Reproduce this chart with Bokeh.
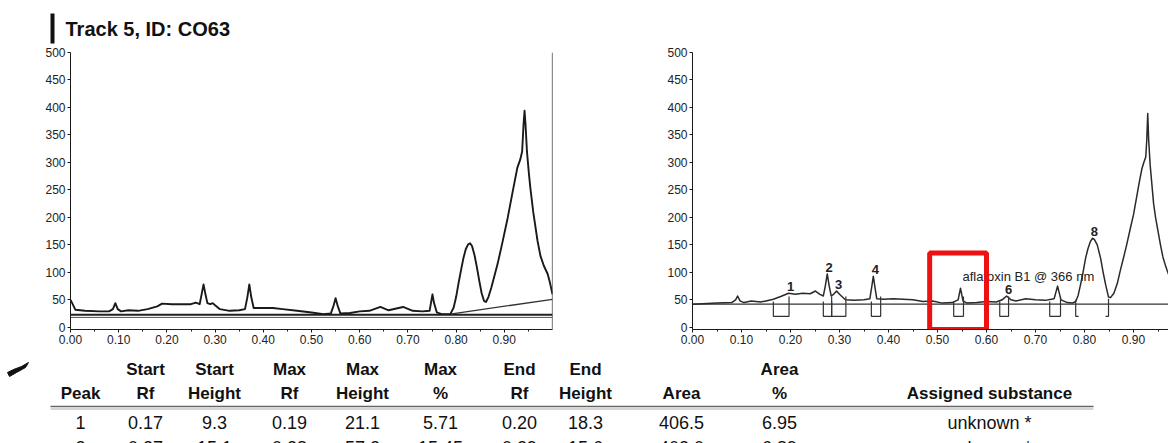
from bokeh.plotting import figure
from bokeh.layouts import column, row
from bokeh.models import Span, Range1d, FixedTicker, ColumnDataSource
from bokeh.embed import file_html
from bokeh.resources import INLINE
from bokeh.core.properties import value

# ---------------- data ----------------
title_text = "Track 5, ID: CO63"
x_ticks = [0.0, 0.1, 0.2, 0.3, 0.4, 0.5, 0.6, 0.7, 0.8, 0.9]
x_tick_labels = ["0.00", "0.10", "0.20", "0.30", "0.40", "0.50", "0.60", "0.70", "0.80", "0.90"]
y_ticks = [0, 50, 100, 150, 200, 250, 300, 350, 400, 450, 500]

# left chromatogram (all tracks)
left_rf = [0.000, 0.003, 0.010, 0.030, 0.060, 0.080, 0.088, 0.093, 0.098, 0.105, 0.120, 0.140,
           0.160, 0.180, 0.190, 0.210, 0.230, 0.250, 0.260, 0.268, 0.272, 0.276, 0.280, 0.284,
           0.290, 0.295, 0.300, 0.310, 0.330, 0.350, 0.362, 0.367, 0.371, 0.375, 0.380, 0.400,
           0.420, 0.440, 0.470, 0.500, 0.525, 0.540, 0.546, 0.550, 0.554, 0.560, 0.580, 0.600,
           0.620, 0.643, 0.660, 0.690, 0.710, 0.730, 0.745, 0.748, 0.751, 0.754, 0.760, 0.770,
           0.788, 0.795, 0.800, 0.805, 0.810, 0.815, 0.820, 0.825, 0.829, 0.833, 0.838, 0.843,
           0.848, 0.853, 0.858, 0.862, 0.867, 0.873, 0.880, 0.886, 0.895, 0.907, 0.917, 0.927,
           0.933, 0.937, 0.940, 0.942, 0.944, 0.947, 0.951, 0.954, 0.960, 0.969, 0.975, 0.982,
           0.990, 0.995, 1.000]
left_au = [50, 45, 32, 30, 29, 29, 33, 44, 33, 29, 31, 30,
           33, 38, 43, 42, 42, 42, 45, 42, 60, 78, 60, 44,
           42, 44, 40, 33, 30, 31, 33, 55, 78, 55, 35, 35,
           35, 33, 30, 27, 24, 25, 40, 53, 40, 25, 26, 29,
           30, 37, 31, 37, 30, 29, 30, 45, 60, 45, 27, 24,
           24, 36, 55, 80, 103, 125, 142, 151, 153, 148, 132, 110,
           85, 62, 48, 46, 55, 72, 95, 115, 150, 199, 245, 290,
           305, 320, 370, 394, 370, 320, 280, 254, 210, 157, 130, 112,
           97, 80, 60]
left_base_levels = [23, 18]
left_slant_rf = [0.788, 1.000]
left_slant_au = [24, 51]

# right chromatogram (integrated)
right_rf = [0.000, 0.020, 0.050, 0.080, 0.088, 0.092, 0.097, 0.105, 0.120, 0.139, 0.150, 0.165,
            0.180, 0.196, 0.210, 0.225, 0.240, 0.251, 0.260, 0.267, 0.271, 0.275, 0.279, 0.283,
            0.288, 0.294, 0.300, 0.312, 0.330, 0.350, 0.362, 0.366, 0.369, 0.372, 0.376, 0.390,
            0.410, 0.430, 0.450, 0.470, 0.490, 0.510, 0.530, 0.542, 0.547, 0.552, 0.560, 0.580,
            0.600, 0.620, 0.632, 0.641, 0.650, 0.660, 0.680, 0.700, 0.720, 0.738, 0.745, 0.752,
            0.765, 0.775, 0.782, 0.787, 0.792, 0.797, 0.802, 0.807, 0.812, 0.816, 0.820, 0.826,
            0.833, 0.838, 0.843, 0.849, 0.853, 0.860, 0.867, 0.873, 0.880, 0.886, 0.893, 0.900,
            0.906, 0.912, 0.917, 0.921, 0.925, 0.927, 0.929, 0.931, 0.934, 0.938, 0.941, 0.945,
            0.949, 0.955, 0.960, 0.966, 0.972]
right_au = [42, 43, 44, 45, 50, 57, 48, 45, 48, 46, 48, 51,
            56, 62, 60, 62, 61, 66, 60, 57, 75, 97, 75, 57,
            60, 66, 60, 50, 49, 50, 52, 75, 93, 75, 52, 51,
            52, 51, 50, 47, 48, 44, 45, 50, 71, 48, 44, 45,
            47, 46, 50, 57, 50, 48, 52, 50, 49, 52, 75, 50,
            45, 44, 47, 58, 78, 100, 125, 143, 156, 162, 160, 150,
            125, 100, 78, 55, 54, 62, 80, 103, 128, 150, 178, 205,
            235, 265, 288, 300, 310, 340, 389, 340, 295, 255, 225, 200,
            180, 150, 128, 110, 95]
right_base_level = 42
peak_start = [0.165, 0.267, 0.284, 0.365, 0.533, 0.627, 0.729, 0.782]
peak_max_rf = [0.196, 0.275, 0.294, 0.369, 0.547, 0.641, 0.745, 0.816]
peak_max_au = [62, 97, 66, 93, 71, 57, 75, 162]
peak_end = [0.197, 0.284, 0.313, 0.384, 0.553, 0.645, 0.751, 0.849]
peak_labels = ["1", "2", "3", "4", "", "6", "", "8"]
assigned_peak = "aflatoxin B1 @ 366 nm"
assigned_index = 4
highlight_rf = [0.484, 0.600]
highlight_au = [-4, 135]

# table
head_top = ["", "Start", "Start", "Max", "Max", "Max", "End", "End", "", "Area", ""]
head_bottom = ["Peak", "Rf", "Height", "Rf", "Height", "%", "Rf", "Height", "Area", "%", "Assigned substance"]
row_1 = ["1", "0.17", "9.3", "0.19", "21.1", "5.71", "0.20", "18.3", "406.5", "6.95", "unknown *"]
row_2 = ["2", "0.27", "15.1", "0.28", "57.2", "15.45", "0.29", "15.6", "403.0", "6.89", "unknown *"]

# ---------------- layout constants ----------------
FONT = "Liberation Sans"
INK = "#1a1a1a"
W = 1168
TITLE_H = 45
CHART_H = 305
TABLE_H = 443 - TITLE_H - CHART_H


def style_chart(p):
    p.grid.visible = False
    p.outline_line_color = None
    for ax in (p.xaxis[0], p.yaxis[0]):
        ax.axis_line_color = INK
        ax.axis_line_width = 1
        ax.major_tick_line_color = INK
        ax.minor_tick_line_color = INK
        ax.major_tick_out = 3
        ax.major_tick_in = 0
        ax.minor_tick_out = 2
        ax.minor_tick_in = 0
        ax.major_label_text_font = FONT
        ax.major_label_text_font_size = "12px"
        ax.major_label_text_color = "#222222"
        ax.major_label_standoff = 2
    p.xaxis[0].ticker = FixedTicker(ticks=x_ticks, minor_ticks=[t + 0.05 for t in x_ticks])
    p.xaxis[0].major_label_overrides = {t: s for t, s in zip(x_ticks, x_tick_labels)}
    p.yaxis[0].ticker = FixedTicker(ticks=y_ticks)


def blank(p):
    p.axis.visible = False
    p.grid.visible = False
    p.outline_line_color = None


# ---------------- title strip ----------------
head = figure(width=W, height=TITLE_H, x_range=Range1d(0, W), y_range=Range1d(TITLE_H, 0),
              output_backend="svg", toolbar_location=None, min_border=0)
blank(head)
head.quad(left=[50], right=[54], top=[13], bottom=[43], fill_color="#111111", line_color=None)
head.text(x=[65], y=[28], text=[title_text], text_font=value(FONT), text_font_size="20px",
          text_font_style="bold", text_color="#111111", text_baseline="middle")

# ---------------- left chart ----------------
left = figure(width=620, height=CHART_H, x_range=Range1d(0, 1.0), y_range=Range1d(-4, 500),
              output_backend="svg", toolbar_location=None,
              min_border_left=70, min_border_right=68, min_border_top=7, min_border_bottom=21)
style_chart(left)
left.line([0, 1.0], [left_base_levels[0]] * 2, line_color="#222222", line_width=2)
left.line([0, 1.0], [left_base_levels[1]] * 2, line_color="#555555", line_width=1)
left.line(left_slant_rf, left_slant_au, line_color="#333333", line_width=1.3)
left.line(left_rf, left_au, line_color=INK, line_width=1.9, line_join="round")
left.add_layout(Span(location=1.0, dimension="height", line_color=INK, line_width=1.2))

# ---------------- right chart ----------------
right = figure(width=W - 620, height=CHART_H, x_range=Range1d(0, 0.9714), y_range=Range1d(-4, 500),
               output_backend="svg", toolbar_location=None,
               min_border_left=72, min_border_right=0, min_border_top=7, min_border_bottom=21)
style_chart(right)
right.line([0, 0.9714], [right_base_level, right_base_level], line_color="#333333", line_width=1.2)
right.line(right_rf, right_au, line_color="#2a2a2a", line_width=1.5, line_join="round")

bx, by = [], []
bottom = right_base_level - 22
for i, (s, e) in enumerate(zip(peak_start, peak_end)):
    if i == len(peak_start) - 1:
        bx.append([s + 0.006, s, s])
        by.append([bottom, bottom, right_base_level + 8])
        bx.append([e - 0.006, e, e])
        by.append([bottom, bottom, right_base_level + 10])
    else:
        bx.append([s, s, e, e])
        by.append([right_base_level + 5, bottom, bottom, right_base_level + 14])
right.multi_line(bx, by, line_color="#333333", line_width=1.2)

lab_src = ColumnDataSource(dict(x=[r + 0.004 for r in peak_max_rf], y=peak_max_au, t=peak_labels))
right.text(x="x", y="y", text="t", source=lab_src, text_font=value(FONT), text_font_size="13px",
           text_font_style="bold", text_color="#222222", text_align="center",
           text_baseline="bottom", y_offset=-2)
right.text(x=[peak_max_rf[assigned_index] + 0.004], y=[peak_max_au[assigned_index] + 7],
           text=[assigned_peak], text_font=value(FONT), text_font_size="13px",
           text_color="#222222", text_align="left", text_baseline="bottom")
right.quad(left=[highlight_rf[0]], right=[highlight_rf[1]], bottom=[highlight_au[0]],
           top=[highlight_au[1]], fill_color=None, line_color="#ee1111", line_width=5)

# ---------------- table ----------------
col_x = [80, 145, 214, 289, 362, 440, 519, 585, 681, 779, 989]
table = figure(width=W, height=TABLE_H, x_range=Range1d(0, W), y_range=Range1d(TABLE_H, 0),
               output_backend="svg", toolbar_location=None, min_border=0)
blank(table)
# scan smudge at the left margin
table.patch([7, 13, 21, 28, 25, 16, 9], [22, 19, 16, 12, 17, 22, 26],
            fill_color="#111111", line_color="#111111", line_width=1)
n = len(col_x)
table.text(x=col_x, y=[19] * n, text=head_top, text_font=value(FONT), text_font_size="17px",
           text_font_style="bold", text_color="#111111", text_align="center", text_baseline="middle")
table.text(x=col_x, y=[43] * n, text=head_bottom, text_font=value(FONT), text_font_size="17px",
           text_font_style="bold", text_color="#111111", text_align="center", text_baseline="middle")
table.line([50, 1093], [56, 56], line_color="#666666", line_width=1.5)
table.line([50, 1093], [58.5, 58.5], line_color="#aaaaaa", line_width=1)
table.text(x=col_x, y=[72] * n, text=row_1, text_font=value(FONT), text_font_size="18px",
           text_color="#111111", text_align="center", text_baseline="middle")
table.text(x=col_x, y=[97] * n, text=row_2, text_font=value(FONT), text_font_size="18px",
           text_color="#111111", text_align="center", text_baseline="middle")

layout = column(head, row(left, right, spacing=0), table, spacing=0)
open("out.html", "w").write(file_html(layout, INLINE))
